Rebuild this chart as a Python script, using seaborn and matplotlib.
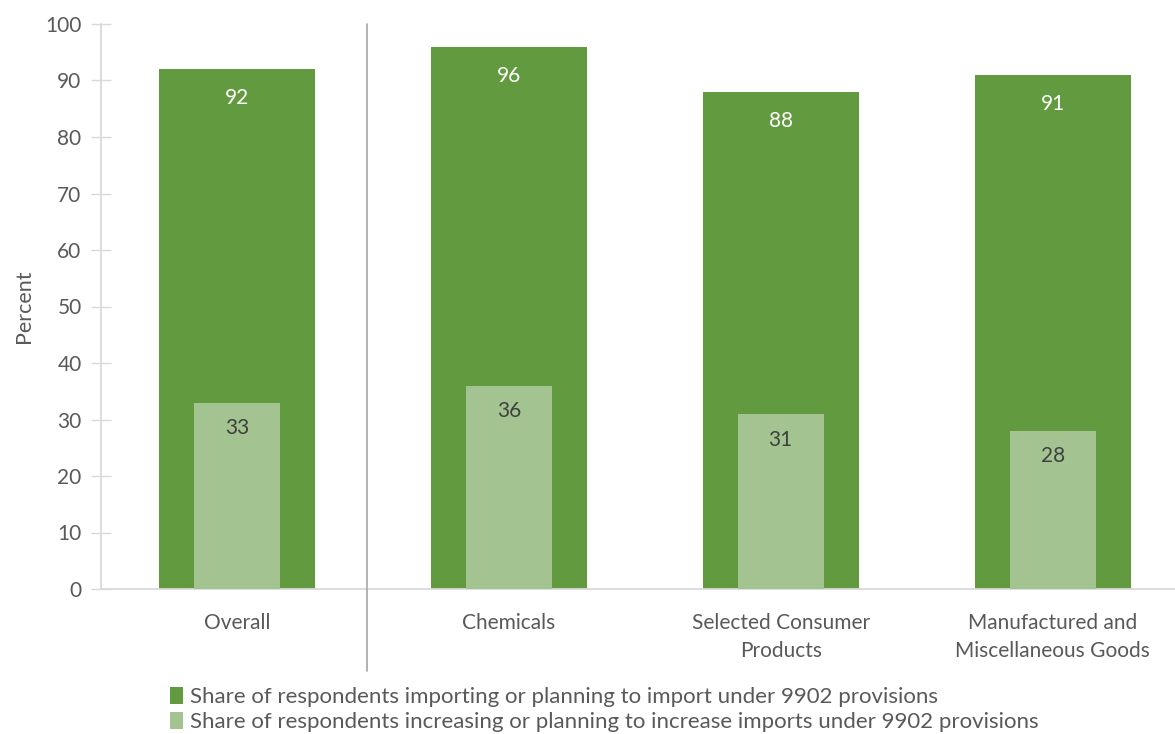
import matplotlib
matplotlib.use("Agg")
import matplotlib.pyplot as plt
from matplotlib.patches import Patch
import seaborn as sns
import pandas as pd

categories = ["Overall", "Chemicals", "Selected Consumer\nProducts",
              "Manufactured and\nMiscellaneous Goods"]
importing = [92, 96, 88, 91]
increasing = [33, 36, 31, 28]
series_names = [
    "Share of respondents importing or planning to import under 9902 provisions",
    "Share of respondents increasing or planning to increase imports under 9902 provisions",
]

DARK = "#629A3F"
LIGHT = "#A3C490"
TEXT = "#595959"
AXIS = "#D9D9D9"

sns.set_theme(style="white")
plt.rcParams["font.family"] = ["Lato", "DejaVu Sans"]

df = pd.DataFrame({"category": categories, "importing": importing,
                   "increasing": increasing})

fig = plt.figure(figsize=(11.75, 7.34), dpi=100)
ax = fig.add_axes([101 / 1175, 145 / 734, 1 - 101 / 1175, 565 / 734])

sns.barplot(data=df, x="category", y="importing", color=DARK, width=0.574,
            saturation=1, linewidth=0, edgecolor="none", ax=ax, zorder=2)
sns.barplot(data=df, x="category", y="increasing", color=LIGHT, width=0.316,
            saturation=1, linewidth=0, edgecolor="none", ax=ax, zorder=3)

for i, (a, b) in enumerate(zip(importing, increasing)):
    ax.annotate(f"{a}", (i, a), xytext=(0, -21), textcoords="offset points",
                ha="center", va="center", color="white", fontsize=15, zorder=5)
    ax.annotate(f"{b}", (i, b), xytext=(0, -18.5), textcoords="offset points",
                ha="center", va="center", color="#404040", fontsize=15, zorder=5)

ax.set_xlim(-0.5, 3.45)
ax.set_ylim(0, 100)
ax.set_yticks(range(0, 101, 10))
ax.set_xlabel("")
ax.set_ylabel("Percent", fontsize=15.5, color=TEXT, labelpad=8)
ax.tick_params(axis="y", which="both", left=True, length=14, width=1,
               color=AXIS, direction="inout", labelsize=15, labelcolor=TEXT,
               pad=7)
ax.tick_params(axis="x", bottom=False, labelsize=15, labelcolor=TEXT, pad=11)
for lbl in ax.get_xticklabels():
    lbl.set_linespacing(1.5)

for side in ["top", "right"]:
    ax.spines[side].set_visible(False)
for side in ["left", "bottom"]:
    ax.spines[side].set_color(AXIS)
    ax.spines[side].set_linewidth(1.3)

# divider between the overall bar and the sector groups
ax.plot([0.478, 0.478], [100, -14.5], color="#A6A6A6", lw=1.2,
        clip_on=False, zorder=4)

handles = [Patch(facecolor=DARK, edgecolor="none"),
           Patch(facecolor=LIGHT, edgecolor="none")]
fig.legend(handles, series_names, loc="lower left",
           bbox_to_anchor=(154 / 1175, -0.019), frameon=False, fontsize=16,
           labelcolor=TEXT, handlelength=0.6, handleheight=0.8,
           handletextpad=0.3, labelspacing=0.22, borderpad=0.2)

fig.savefig("out.png", dpi=100)
